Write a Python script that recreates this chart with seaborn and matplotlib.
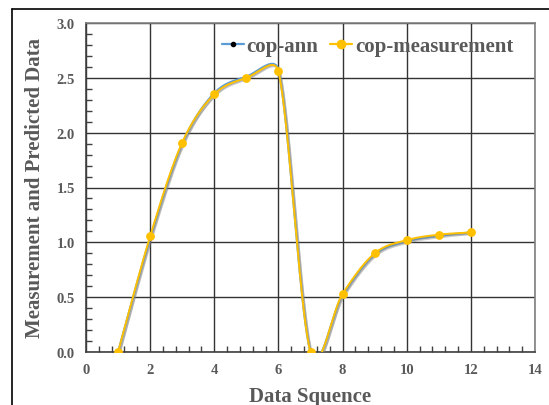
import numpy as np
import pandas as pd
import seaborn as sns
import matplotlib
matplotlib.use("Agg")
import matplotlib.pyplot as plt
from matplotlib.lines import Line2D
from matplotlib.ticker import MultipleLocator
import matplotlib.patheffects as pe

# data
seq = [1, 2, 3, 4, 5, 6, 7, 8, 9, 10, 11, 12]
cop_ann = [0.0, 1.04, 1.90, 2.36, 2.51, 2.57, 0.0, 0.52, 0.89, 1.01, 1.06, 1.09]
cop_meas = [0.0, 1.055, 1.91, 2.35, 2.50, 2.56, 0.0, 0.53, 0.90, 1.02, 1.07, 1.09]

blue = "#5B9BD5"
gold = "#FFC000"
grey = "#595959"

# pixels per data unit, so smoothing works in screen space
XS, YS = 32.0, 110.0


def smooth(x, y, n=40, lim=0.5):
    # catmull-rom bezier, control arms clamped to part of the segment length
    p = np.column_stack([np.asarray(x, float) * XS, np.asarray(y, float) * YS])
    m = len(p)
    t = np.linspace(0, 1, n)[:, None]
    out = []
    for i in range(m - 1):
        a, b = p[i], p[i + 1]
        chord = np.linalg.norm(b - a)
        v1 = (b - p[i - 1]) / 6 if i > 0 else (b - a) / 6
        v2 = (p[i + 2] - a) / 6 if i < m - 2 else (b - a) / 6
        for v in (v1, v2):
            L = np.linalg.norm(v)
            if L > lim * chord:
                v *= lim * chord / L
        c1, c2 = a + v1, b - v2
        seg = (1 - t) ** 3 * a + 3 * (1 - t) ** 2 * t * c1 + 3 * (1 - t) * t ** 2 * c2 + t ** 3 * b
        out.append(seg)
    out = np.vstack(out)
    return out[:, 0] / XS, out[:, 1] / YS


sns.set_style("white")
plt.rcParams["font.family"] = ["Liberation Serif", "DejaVu Serif"]
plt.rcParams["font.weight"] = "bold"

fig = plt.figure(figsize=(5.49, 4.06), dpi=100)
ax = fig.add_axes([86 / 549, 1 - 353 / 406, (535 - 86) / 549, (353 - 24) / 406])

shadow = [pe.SimpleLineShadow(offset=(1, -1), shadow_color="grey", alpha=0.4), pe.Normal()]

sx, sy = smooth(seq, cop_ann)
line_ann = pd.DataFrame({"x": sx, "y": sy})
sns.lineplot(data=line_ann, x="x", y="y", sort=False, color=blue, lw=1.6, ax=ax,
             path_effects=shadow, zorder=3)
sx, sy = smooth(seq, cop_meas)
line_meas = pd.DataFrame({"x": sx, "y": sy})
sns.lineplot(data=line_meas, x="x", y="y", sort=False, color=gold, lw=1.4, ax=ax,
             path_effects=shadow, zorder=4)

sns.scatterplot(x=seq, y=cop_ann, color="black", s=8, linewidth=0, ax=ax, zorder=5)
sns.scatterplot(x=seq, y=cop_meas, color=gold, s=40, linewidth=0, ax=ax, zorder=6)

ax.set_xlim(0, 14)
ax.set_ylim(0, 3.0)
ax.xaxis.set_major_locator(MultipleLocator(2))
ax.xaxis.set_minor_locator(MultipleLocator(0.4))
ax.yaxis.set_major_locator(MultipleLocator(0.5))
ax.yaxis.set_minor_locator(MultipleLocator(0.1))
ax.yaxis.set_major_formatter(matplotlib.ticker.FormatStrFormatter("%.1f"))
ax.grid(True, which="major", color="#333333", lw=1.0)
ax.set_axisbelow(True)
ax.tick_params(which="major", length=0, labelsize=10.5, labelcolor=grey, pad=8)
ax.tick_params(which="minor", direction="in", length=4, width=1, color="#404040",
               bottom=True, left=True)
for s in ax.spines.values():
    s.set_color("#808080")
    s.set_linewidth(1.2)
ax.spines["bottom"].set_color("#404040")
ax.spines["left"].set_color("#404040")

ax.set_xlabel("Data Squence", fontsize=15, fontweight="bold", color=grey, labelpad=7)
ax.set_ylabel("Measurement and Predicted Data", fontsize=15, fontweight="bold", color=grey, labelpad=8)

handles = [
    Line2D([0], [0], color=blue, lw=1.6, marker="o", markersize=3, markerfacecolor="black",
           markeredgecolor="black"),
    Line2D([0], [0], color=gold, lw=1.6, marker="o", markersize=6, markerfacecolor=gold,
           markeredgecolor=gold),
]
leg = ax.legend(handles, ["cop-ann", "cop-measurement"], loc="upper right", ncol=2,
                frameon=False, fontsize=15, handlelength=1.05, handletextpad=0.12,
                columnspacing=0.6, bbox_to_anchor=(0.97, 0.985), borderaxespad=0)
for t in leg.get_texts():
    t.set_color(grey)
    t.set_fontweight("bold")

# frame edge of the original picture
fig.add_artist(Line2D([12 / 549, 12 / 549], [0, 1 - 10 / 406], color="black", lw=1.2))
fig.add_artist(Line2D([12 / 549, 1], [1 - 10 / 406, 1 - 10 / 406], color="black", lw=1.2))

fig.savefig("out.png", dpi=100)
